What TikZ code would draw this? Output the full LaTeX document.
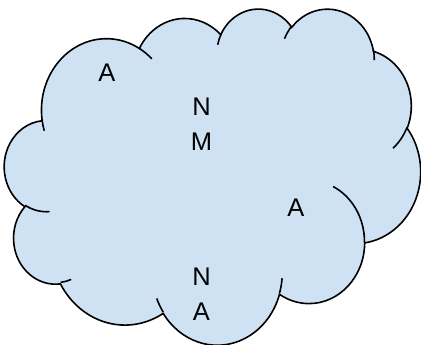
\documentclass[tikz,border=0pt]{standalone}
\usepackage{fontspec}
\setmainfont{Liberation Sans}
\definecolor{cloudfill}{HTML}{CFE2F3}
\newcommand\ooArcDef[5]{%
  \pgfmathsetmacro\ooTs{atan2((#2)*sin(#4),(#3)*cos(#4))}%
  \pgfmathsetmacro\ooTe{atan2((#2)*sin((#4)+(#5)),(#3)*cos((#4)+(#5)))}%
  \pgfmathsetmacro\ooD{mod((\ooTe)-(\ooTs)+720,360)}%
  \expandafter\xdef\csname #1\endcsname{arc[start angle=\ooTs, delta angle=\ooD, x radius=#2, y radius=#3]}%
}
\ooArcDef{cma}{67.53}{91.90}{-190.487483}{123.780533}
\ooArcDef{cmb}{53.33}{72.67}{-144.102383}{89.945233}
\ooArcDef{cmc}{43.65}{59.45}{-145.807917}{99.723017}
\ooArcDef{cmd}{48.57}{65.95}{-130.986067}{117.241733}
\ooArcDef{cme}{53.33}{72.73}{-78.708883}{109.026917}
\ooArcDef{cmf}{67.75}{92.20}{-46.26725}{130.269}
\ooArcDef{cmg}{57.85}{78.67}{0.625017}{114.033333}
\ooArcDef{cmh}{67.52}{92.15}{22.4516}{115.17255}
\ooArcDef{cmi}{77.20}{105.43}{66.242633}{75.711017}
\ooArcDef{cmj}{43.60}{59.18}{-274.942083}{146.735567}
\ooArcDef{cmk}{43.45}{59.45}{-246.8285}{152.51885}
\ooArcDef{cia}{43.45}{59.45}{86.742}{26.4295}
\ooArcDef{cib}{43.60}{59.18}{73.610467}{11.447467}
\ooArcDef{cic}{67.52}{92.15}{137.62415}{14.0811}
\ooArcDef{cid}{67.52}{92.15}{6.453267}{15.99835}
\ooArcDef{cie}{57.85}{78.67}{-70.29235}{70.917367}
\ooArcDef{cif}{53.33}{72.73}{30.318033}{27.7515}
\ooArcDef{cig}{48.57}{65.95}{-13.744333}{14.8589}
\ooArcDef{cih}{48.57}{65.95}{-149.18145}{18.195367}
\ooArcDef{cii}{43.65}{59.45}{-163.494267}{17.68635}
\ooArcDef{cij}{67.53}{91.90}{-66.70695}{12.31935}
\ooArcDef{cik}{67.53}{91.90}{157.65435}{11.858167}
\begin{document}
\begin{tikzpicture}[x=1pt,y=1pt,
  cloudline/.style={draw=black, line width=1.6pt},
  lbl/.style={font=\fontsize{25.5}{35}\selectfont, inner sep=0pt, align=center, anchor=base}]
\useasboundingbox (0,0) rectangle (421,-345);
\begin{scope}[shift={(4.5,-8)}, xscale=416/432, yscale=-336/432]
  \draw[cloudline, fill=cloudfill] (39.00,143.70) \cma \cmb \cmc \cmd \cme \cmf \cmg \cmh \cmi \cmj \cmk -- cycle;
  \draw[cloudline] (46.93,261.77) \cia
    (69.28,348.99) \cib
    (164.78,390.90) \cic
    (288.27,347.51) \cid
    (341.29,229.54) \cie
    (417.98,153.54) \cif
    (383.24,54.26) \cig
    (290.78,39.52) \cih
    (221.41,47.20) \cii
    (140.00,51.92) \cij
    (41.27,157.89) \cik;
\end{scope}
\node[lbl] (a1) at (107,-81.5) {A};
\node[lbl] (nm) at (201.5,-150) {N\\M};
\node[lbl] (a2) at (296,-216.7) {A};
\node[lbl] (na) at (201.5,-320) {N\\A};
\end{tikzpicture}
\end{document}
